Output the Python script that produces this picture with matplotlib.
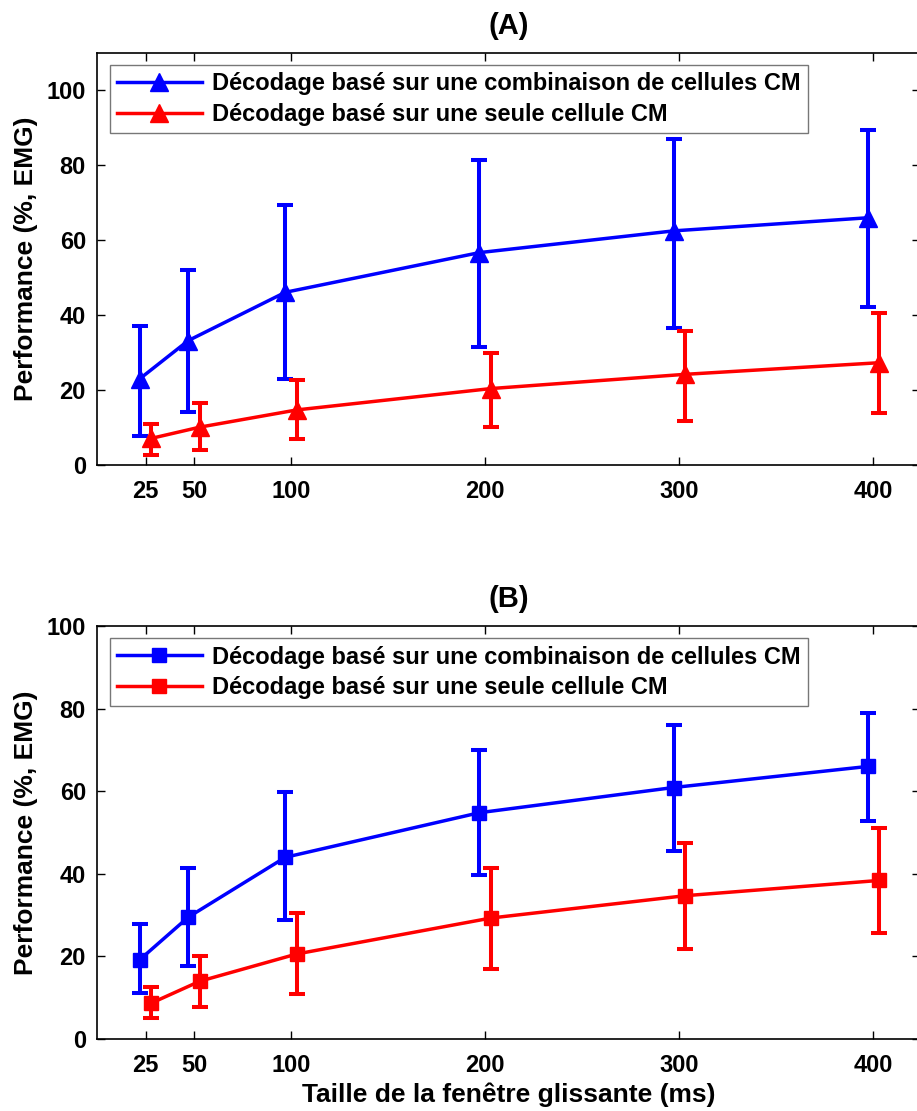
import numpy as np
import matplotlib
matplotlib.use('Agg')
import matplotlib.pyplot as plt

plt.rcParams['font.family'] = ['Liberation Sans', 'DejaVu Sans']
plt.rcParams['font.weight'] = 'bold'

# window sizes (ms)
fenetres = [25, 50, 100, 200, 300, 400]
decalage = 3  # petit decalage horizontal entre les deux series

lab_comb = 'Décodage basé sur une combinaison de cellules CM'
lab_seule = 'Décodage basé sur une seule cellule CM'

# (A) moyenne, borne haute, borne basse
a_comb = [23.0, 33.2, 46.1, 56.7, 62.5, 66.0]
a_comb_haut = [37.2, 52.1, 69.3, 81.5, 87.0, 89.4]
a_comb_bas = [7.7, 14.1, 22.9, 31.5, 36.5, 42.3]
a_seule = [7.1, 10.1, 14.7, 20.4, 24.2, 27.3]
a_seule_haut = [11.0, 16.5, 22.7, 29.9, 35.9, 40.5]
a_seule_bas = [2.6, 4.1, 7.0, 10.2, 11.8, 13.9]

# (B)
b_comb = [19.2, 29.5, 44.0, 54.8, 60.9, 66.0]
b_comb_haut = [27.9, 41.4, 59.9, 70.0, 76.0, 79.0]
b_comb_bas = [11.1, 17.6, 28.7, 39.8, 45.6, 52.8]
b_seule = [8.7, 14.0, 20.6, 29.3, 34.7, 38.4]
b_seule_haut = [12.7, 20.0, 30.5, 41.4, 47.4, 51.2]
b_seule_bas = [5.1, 7.7, 11.0, 17.0, 21.8, 25.6]

fig = plt.figure(figsize=(9.17, 11.11), dpi=100)
axA = fig.add_axes([0.1058, 0.5815, 0.8975, 0.3708])
axB = fig.add_axes([0.1058, 0.0648, 0.8975, 0.3717])


def trace(ax, m1, h1, b1, m2, h2, b2, marker, ms):
    x = np.array(fenetres)
    m1 = np.array(m1); m2 = np.array(m2)
    err1 = [m1 - np.array(b1), np.array(h1) - m1]
    err2 = [m2 - np.array(b2), np.array(h2) - m2]
    c1 = ax.errorbar(x - decalage, m1, yerr=err1, color='#0000ff', marker=marker,
                     markersize=ms, linewidth=2.5, elinewidth=2.9, capsize=5.5,
                     capthick=2.9, zorder=3)
    c2 = ax.errorbar(x + decalage, m2, yerr=err2, color='#ff0000', marker=marker,
                     markersize=ms, linewidth=2.5, elinewidth=2.9, capsize=5.5,
                     capthick=2.9, zorder=4)
    ax.set_xlim(0, 424)
    ax.set_xticks(fenetres)
    ax.tick_params(direction='in', top=True, right=True, length=6,
                   width=1, labelsize=17, pad=11)
    ax.tick_params(axis='y', pad=8)
    for lbl in ax.get_xticklabels() + ax.get_yticklabels():
        lbl.set_fontweight('bold')
    for s in ax.spines.values():
        s.set_linewidth(1.2)
    ax.set_ylabel('Performance (%, EMG)', fontsize=19, fontweight='bold',
                  labelpad=6)
    leg = ax.legend([c1[0], c2[0]], [lab_comb, lab_seule], loc='upper left',
                    bbox_to_anchor=(0.0155, 0.97),
                    fontsize=17, handlelength=3.6, handletextpad=0.45,
                    borderpad=0.3, labelspacing=0.32, fancybox=False,
                    framealpha=1, borderaxespad=0.0)
    leg.get_frame().set_edgecolor('#777777')
    leg.get_frame().set_linewidth(1.0)
    for t in leg.get_texts():
        t.set_fontweight('bold')


trace(axA, a_comb, a_comb_haut, a_comb_bas, a_seule, a_seule_haut, a_seule_bas, '^', 13)
axA.set_ylim(0, 110)
axA.set_yticks([0, 20, 40, 60, 80, 100])
axA.set_title('(A)', fontsize=21, fontweight='bold', pad=14)

trace(axB, b_comb, b_comb_haut, b_comb_bas, b_seule, b_seule_haut, b_seule_bas, 's', 10)
axB.set_ylim(0, 100)
axB.set_yticks([0, 20, 40, 60, 80, 100])
axB.set_title('(B)', fontsize=21, fontweight='bold', pad=14)
axB.set_xlabel('Taille de la fenêtre glissante (ms)', fontsize=19,
               fontweight='bold', labelpad=4)

fig.savefig('out.png', dpi=100)
